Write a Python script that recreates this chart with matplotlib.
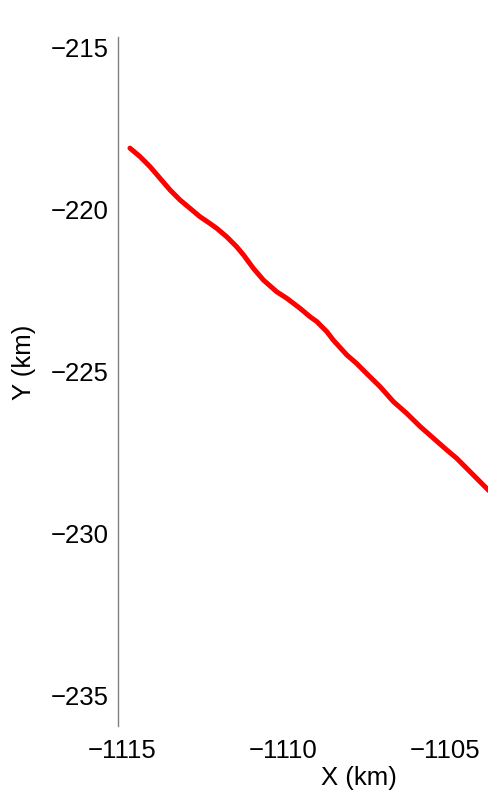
import numpy as np
import matplotlib
matplotlib.use("Agg")
import matplotlib.pyplot as plt

# red track (km)
x_km = np.array([-1114.75, -1114.44, -1114.13, -1113.82, -1113.51, -1113.20,
                 -1112.90, -1112.59, -1112.28, -1112.07, -1111.76, -1111.45,
                 -1111.24, -1110.93, -1110.62, -1110.21, -1109.90, -1109.49,
                 -1109.18, -1108.97, -1108.66, -1108.46, -1108.04, -1107.74,
                 -1107.43, -1107.01, -1106.60, -1106.19, -1105.77, -1105.36,
                 -1104.95, -1104.64, -1104.33, -1104.02, -1103.66, -1103.30])
y_km = np.array([-218.11, -218.37, -218.68, -219.04, -219.40, -219.71,
                 -219.96, -220.22, -220.43, -220.58, -220.84, -221.15,
                 -221.40, -221.82, -222.18, -222.54, -222.74, -223.05,
                 -223.31, -223.46, -223.77, -224.03, -224.49, -224.75,
                 -225.06, -225.47, -225.93, -226.29, -226.70, -227.06,
                 -227.42, -227.68, -227.99, -228.30, -228.66, -229.00])

xticks = [-1115, -1110, -1105]
yticks = [-215, -220, -225, -230, -235]

plt.rcParams["font.family"] = ["Liberation Sans", "DejaVu Sans"]
plt.rcParams["font.size"] = 18.5

fig = plt.figure(figsize=(4.89, 8.01), dpi=100)
ax = fig.add_axes([118 / 489, 75 / 801, 371 / 489, 689 / 801])

ax.plot(x_km, y_km, color="red", linewidth=3.6,
        solid_capstyle="round", solid_joinstyle="round")

ax.set_xlim(-1115.12, -1103.64)
ax.set_ylim(-235.94, -214.68)
ax.set_xticks(xticks)
ax.set_yticks(yticks)
ax.tick_params(length=0)
ax.tick_params(axis="x", pad=9)
ax.tick_params(axis="y", pad=7)

for side in ["top", "right", "bottom"]:
    ax.spines[side].set_visible(False)
ax.spines["left"].set_color("#808080")
ax.spines["left"].set_linewidth(1.0)

ax.set_xlabel("X (km)")
ax.set_ylabel("Y (km)")
ax.xaxis.set_label_coords(0.65, -0.058)
ax.yaxis.set_label_coords(-0.222, 0.528)

fig.savefig("out.png", dpi=100)
